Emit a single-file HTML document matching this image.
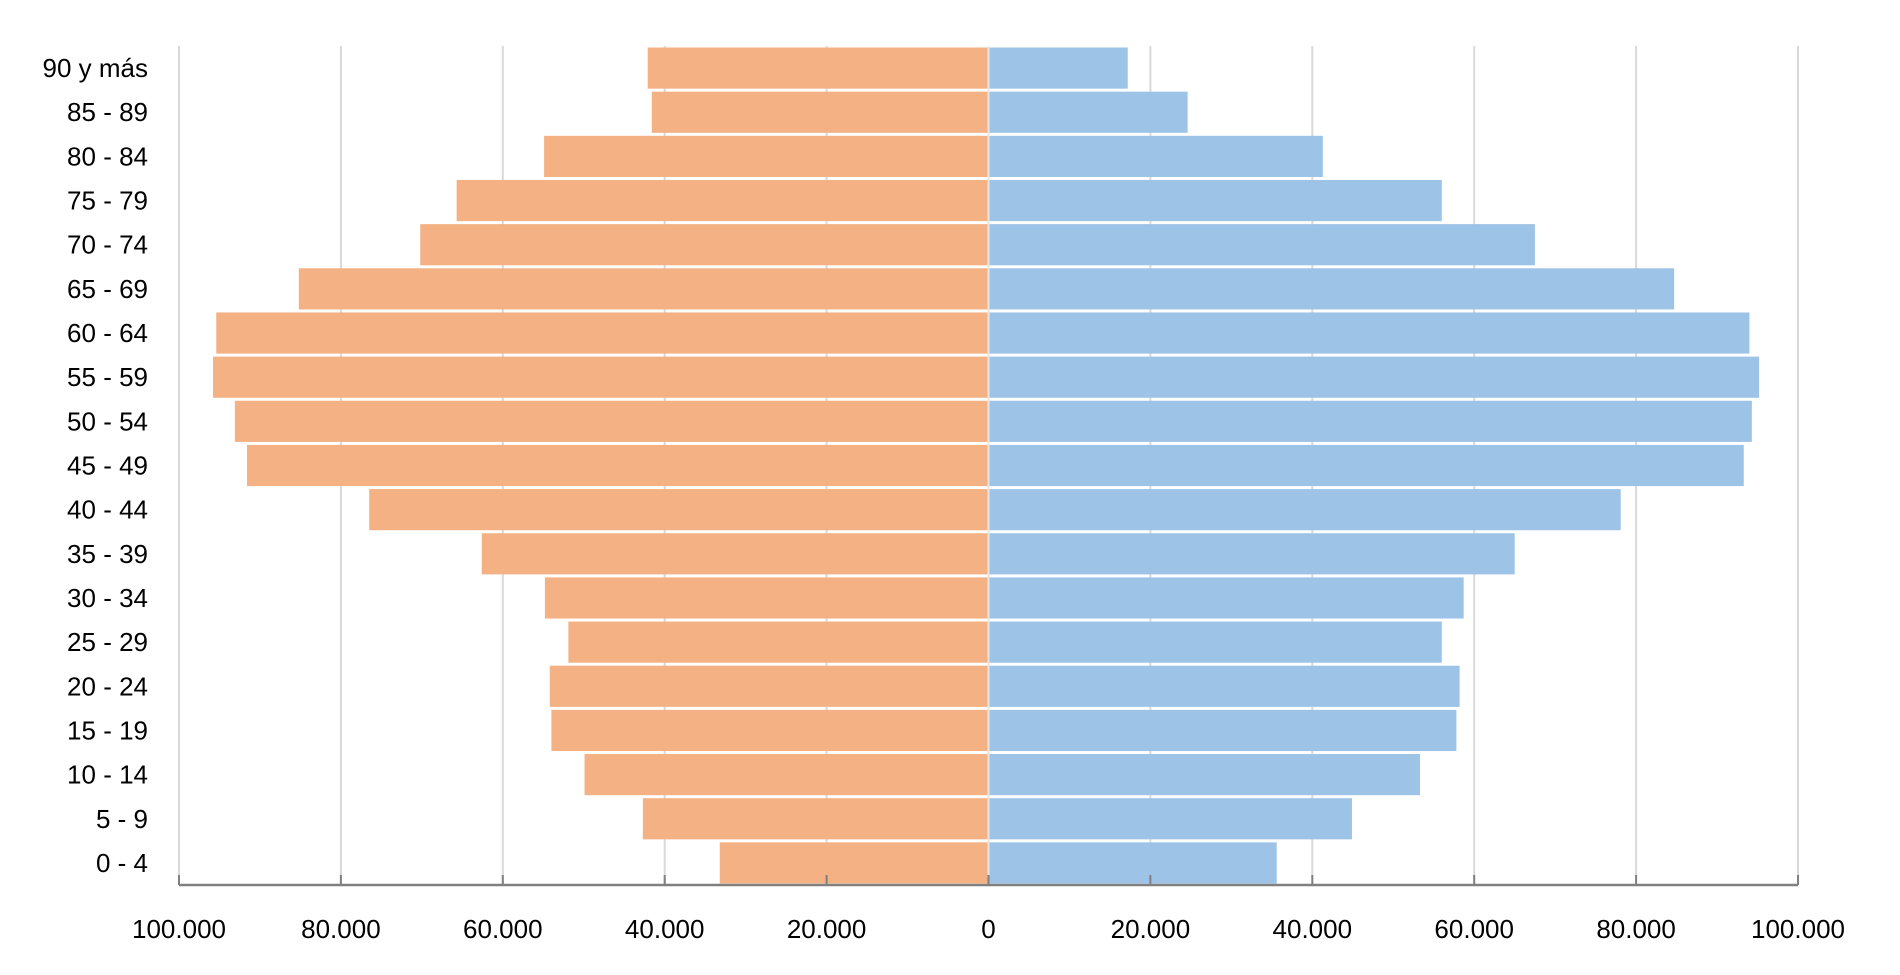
<!DOCTYPE html>
<html><head><meta charset="utf-8"><style>
html,body{margin:0;padding:0;background:#fff;}
svg{display:block;font-family:"Liberation Sans",sans-serif;}
</style></head><body>
<svg id="chart" width="1900" height="975" viewBox="0 0 1900 975"></svg>
<script>
const categories = ["90 y más","85 - 89","80 - 84","75 - 79","70 - 74","65 - 69","60 - 64","55 - 59","50 - 54","45 - 49","40 - 44","35 - 39","30 - 34","25 - 29","20 - 24","15 - 19","10 - 14","5 - 9","0 - 4"];
const leftValues = [42100,41600,54900,65700,70200,85200,95400,95800,93100,91600,76500,62600,54800,51900,54200,54000,49900,42700,33200];
const rightValues = [17200,24600,41300,56000,67500,84700,94000,95200,94300,93300,78100,65000,58700,56000,58200,57800,53300,44900,35600];
const tickValues = [-100000,-80000,-60000,-40000,-20000,0,20000,40000,60000,80000,100000];
const tickLabels = ["100.000","80.000","60.000","40.000","20.000","0","20.000","40.000","60.000","80.000","100.000"];

const NS="http://www.w3.org/2000/svg";
const svg=document.getElementById('chart');
const x0=179,x1=1798,yTop=46,yBot=885;
const xScale=v=>x0+(v+100000)/200000*(x1-x0);
const band=(yBot-yTop)/categories.length;
const yScale=i=>yTop+i*band;
function mk(tag,attrs){const e=document.createElementNS(NS,tag);for(const k in attrs)e.setAttribute(k,attrs[k]);svg.appendChild(e);return e;}

tickValues.forEach((v,i)=>{
  if(v!==0){
    const g=mk('line',{x1:xScale(v),x2:xScale(v),y1:yTop,y2:yBot,stroke:'#d9d9d9','stroke-width':2});
    
    
  }
});
categories.forEach((c,i)=>{
  const y=yScale(i)+1.5,h=band-3;
  const l=mk('rect',{x:xScale(-leftValues[i]),y:y,width:xScale(0)-xScale(-leftValues[i]),height:h,fill:'#F4B183'});
  
  
  const r=mk('rect',{x:xScale(0),y:y,width:xScale(rightValues[i])-xScale(0),height:h,fill:'#9DC3E6'});
  
  
  const t=mk('text',{x:148,y:y+h/2+9,'text-anchor':'end','font-size':26,fill:'#000'});
  t.textContent=c;
  
  
});
const ax=mk('line',{x1:x0,x2:x1,y1:yBot,y2:yBot,stroke:'#808080','stroke-width':2.5});


const c=mk('line',{x1:xScale(0),x2:xScale(0),y1:yTop,y2:yBot,stroke:'#e6e6e6','stroke-width':2});


tickValues.forEach((v,i)=>{
  const tk=mk('line',{x1:xScale(v),x2:xScale(v),y1:yBot-10,y2:yBot,stroke:'#808080','stroke-width':2});
  
  
  const t=mk('text',{x:xScale(v),y:938,'text-anchor':'middle','font-size':26,fill:'#000'});
  t.textContent=tickLabels[i];
  
  
});
</script>
</body></html>
